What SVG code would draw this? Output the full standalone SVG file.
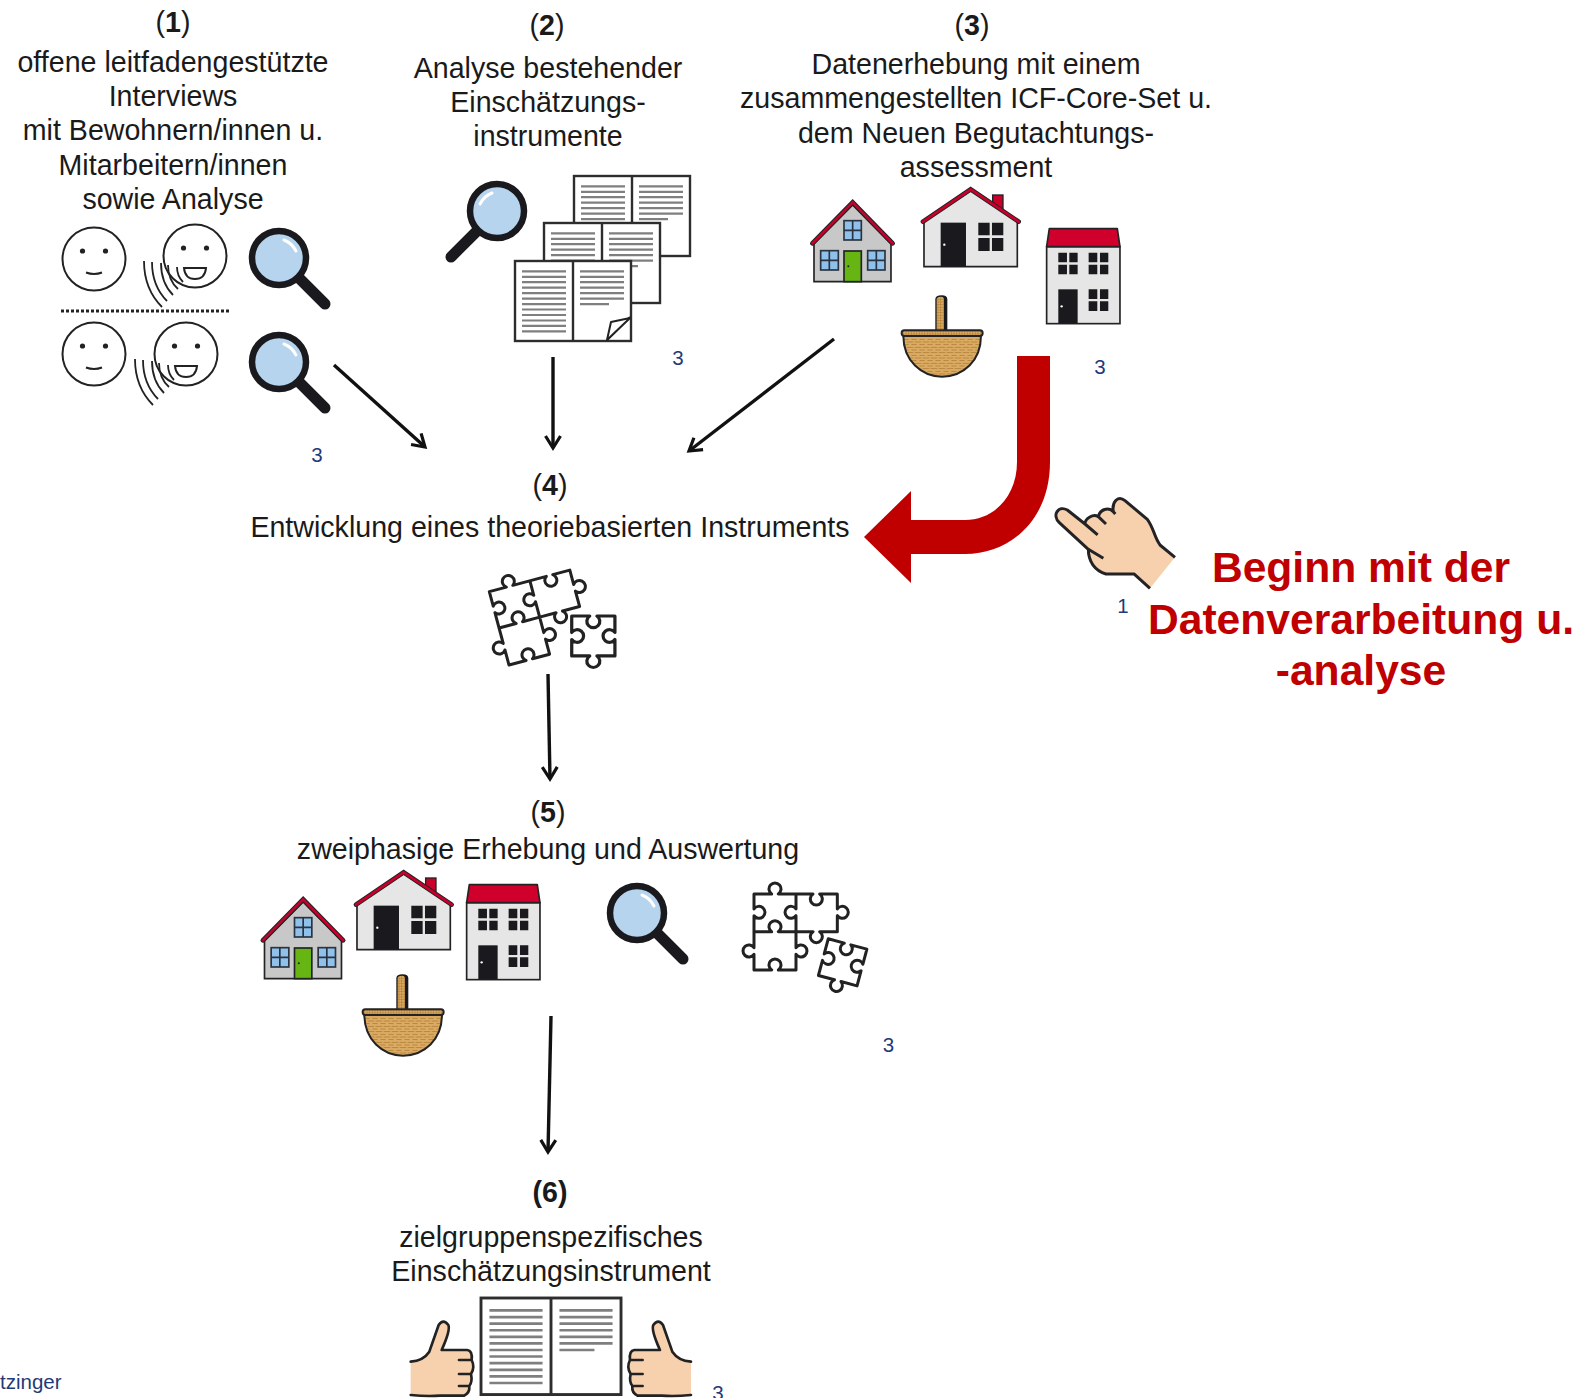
<svg xmlns="http://www.w3.org/2000/svg" xmlns:xlink="http://www.w3.org/1999/xlink" width="1588" height="1398" viewBox="0 0 1588 1398">
<style>
text{font-family:"Liberation Sans",Arial,sans-serif;fill:#1a1a1a}
.t{font-size:28.6px;text-anchor:middle}
.b{font-weight:bold}
.n{font-size:20.5px;fill:#1f3a78;text-anchor:middle}
.r{font-size:42.6px;font-weight:bold;fill:#c00000;text-anchor:middle}
.ln{stroke:#111;stroke-width:3.4;fill:none;marker-end:url(#ah)}
</style>
<defs>
<marker id="ah" markerUnits="userSpaceOnUse" markerWidth="24" markerHeight="24" refX="15" refY="10" orient="auto" overflow="visible">
<path d="M3,2.5 L15,10 L3,17.5" fill="none" stroke="#111" stroke-width="3.2" stroke-linejoin="miter"/>
</marker>
<pattern id="wv" width="24" height="16" patternUnits="userSpaceOnUse">
<rect width="24" height="16" fill="#dcab63"/>
<path d="M0,4H10M14,4H24M4,12H20" stroke="#b07f38" stroke-width="2.6"/>
</pattern>
<pattern id="st" width="8" height="8" patternUnits="userSpaceOnUse">
<rect width="8" height="8" fill="#dcab63"/>
<path d="M0,4H8M4,0V8" stroke="#b07f38" stroke-width="2"/>
</pattern>
<g id="mag">
<line x1="21" y1="21" x2="46" y2="46" stroke="#1a1a1e" stroke-width="11" stroke-linecap="round"/>
<circle r="27" fill="#b6d4ee" stroke="#1a1a1e" stroke-width="6.5"/>
<path d="M5,-18 Q13,-15 17,-7" fill="none" stroke="#fff" stroke-width="3" stroke-linecap="round"/>
</g>
<g id="face">
<circle r="31.5" fill="#fff" stroke="#222" stroke-width="2"/>
<circle cx="-11.5" cy="-8" r="2.6" fill="#222"/><circle cx="11.5" cy="-8" r="2.6" fill="#222"/>
</g>
<g id="calm"><use href="#face"/><path d="M-8,13.5 Q0,16.5 8,13.5" fill="none" stroke="#222" stroke-width="2"/></g>
<g id="talk"><use href="#face"/>
<path d="M-11,12 H11 Q10,23 0,23 Q-10,23 -11,12Z" fill="#fff" stroke="#222" stroke-width="2"/>
<path d="M-51,5 Q-51,33 -33,51M-43,6 Q-43,30 -28,45M-34,7 Q-34,27 -22,39M-27,9 Q-27,24 -17,33M-18,11 Q-18,20 -12,26" fill="none" stroke="#222" stroke-width="1.8"/>
</g>
<g id="page">
<rect x="0" y="0" width="116" height="80" fill="#fff" stroke="#2d2d2d" stroke-width="2.4"/>
<line x1="58" y1="0" x2="58" y2="80" stroke="#2d2d2d" stroke-width="2.4"/>
<path d="M7,10.3H51M7,15.8H51M7,21.2H51M7,26.7H51M7,32.2H51M7,37.6H51M7,43.1H51M7,48.5H51M7,54H51M7,59.5H51M7,64.9H51M7,70.4H51M65,10.3H109M65,15.8H109M65,21.2H109M65,26.7H109M65,32.2H109M65,37.6H109M65,43.1H94" stroke="#7f7f7f" stroke-width="2.2"/>
</g>
<g id="thumb">
<path d="M62,245 Q100,242 118,215 L146,135 Q160,115 175,135 Q182,150 155,210 H232 Q248,212 245,240 Q256,262 243,282 Q248,305 238,318 Q240,340 222,347 H150 Q110,350 62,345 Z" fill="#f7d0ae"/>
<path d="M62,245 Q100,242 118,215 L146,135 Q160,115 175,135 Q182,150 155,210 H232 Q248,212 245,240 Q256,262 243,282 Q248,305 238,318 Q240,340 222,347 H150 Q110,350 62,345 M245,240 H207 M243,282 H207 M238,318 H207" fill="none" stroke="#222" stroke-width="8" stroke-linejoin="round" stroke-linecap="round"/>
</g>
<path id="pc" d="M-60,-57 H-10 A18,18 0 1 0 10,-57 H60 V-10 A18,18 0 1 0 60,10 V57 H10 A18,18 0 1 1 -10,57 H-60 V10 A18,18 0 1 0 -60,-10 Z" fill="#fff" stroke="#222" stroke-width="9" stroke-linejoin="round"/>
<g id="pz3" fill="none" stroke="#222" stroke-width="9" stroke-linejoin="round">
<path d="M72,72 H125 A18,18 0 1 1 145,72 H249 A18,18 0 1 0 269,72 H322 V117 A18,18 0 1 1 322,137 V185 H269 A18,18 0 1 1 249,185 H198 V233 A18,18 0 1 1 198,253 V300 H145 A18,18 0 1 0 125,300 H72 V253 A18,18 0 1 1 72,233 V137 A18,18 0 1 0 72,117 Z" fill="#fff"/>
<path d="M198,72 V117 A18,18 0 1 0 198,137 V185 M72,185 H125 A18,18 0 1 1 145,185 H198"/>
</g>
<g id="h1">
<path d="M72,222 L188,105 L303,222 V335 H72 Z" fill="#c8c8c8" stroke="#232326" stroke-width="5"/>
<path d="M67,220 L188,97 L308,220" fill="none" stroke="#232326" stroke-width="14" stroke-linecap="round"/>
<path d="M67,220 L188,97 L308,220" fill="none" stroke="#c8002a" stroke-width="8" stroke-linecap="round"/>
<g fill="#8fc1ea" stroke="#2a3340" stroke-width="5">
<rect x="162" y="152" width="52" height="58"/><rect x="92" y="242" width="53" height="58"/><rect x="233" y="242" width="52" height="58"/>
<path d="M188,152V210M162,181H214M118,242V300M92,271H145M259,242V300M233,271H285" fill="none"/>
</g>
<rect x="162" y="243" width="52" height="92" fill="#66b512" stroke="#232326" stroke-width="5"/>
<circle cx="175" cy="289" r="3" fill="#222"/>
</g>
<g id="h2">
<rect x="608" y="75" width="31" height="50" fill="#c8002a" stroke="#232326" stroke-width="4"/>
<path d="M402,155 L542,62 L682,155 V290 H402 Z" fill="#e6e6e6" stroke="#232326" stroke-width="5"/>
<path d="M399,155 L542,58 L686,155" fill="none" stroke="#232326" stroke-width="14" stroke-linecap="round"/>
<path d="M399,155 L542,58 L686,155" fill="none" stroke="#c8002a" stroke-width="8" stroke-linecap="round"/>
<rect x="452" y="158" width="76" height="132" fill="#1a1a1e"/>
<circle cx="463" cy="224" r="3.5" fill="#fff"/>
<path d="M565,158h34v38h-34zM606,158h34v38h-34zM565,204h34v39h-34zM606,204h34v39h-34z" fill="#1a1a1e"/>
</g>
<g id="h3">
<rect x="770" y="230" width="220" height="231" fill="#e6e6e6" stroke="#232326" stroke-width="5"/>
<path d="M778,176 H982 L990,230 H770 Z" fill="#d0002c" stroke="#232326" stroke-width="5" stroke-linejoin="round"/>
<g fill="#1a1a1e">
<path d="M805,248h26v29h-26zM838,248h25v29h-25zM805,284h26v29h-26zM838,284h25v29h-25z"/>
<path d="M896,248h26v29h-26zM930,248h25v29h-25zM896,284h26v29h-26zM930,284h25v29h-25z"/>
<path d="M896,358h26v29h-26zM930,358h25v29h-25zM896,394h26v29h-26zM930,394h25v29h-25z"/>
<rect x="805" y="358" width="58" height="102"/>
</g>
<circle cx="815" cy="409" r="3.5" fill="#fff"/>
</g>
<g id="bk">
<path d="M436,482 V388 Q436,376 455,376 Q472,376 472,388 V482 Z" fill="#1a1a1e"/>
<path d="M440,482 V388 Q440,380 453,380 Q462,380 462,388 V482 Z" fill="url(#st)"/>
<path d="M340,497 H573 C573,572 520,620 456,620 C395,620 340,572 340,497Z" fill="url(#wv)" stroke="#232326" stroke-width="6"/>
<rect x="335" y="481" width="243" height="17" rx="8" fill="url(#st)" stroke="#232326" stroke-width="6"/>
</g>
</defs>

<rect width="1588" height="1398" fill="#fff"/>

<g id="connectors">
<line class="ln" x1="334" y1="365" x2="425" y2="447"/>
<line class="ln" x1="553" y1="357" x2="553" y2="448"/>
<line class="ln" x1="834" y1="339" x2="689" y2="451"/>
<line class="ln" x1="548" y1="674" x2="550" y2="779"/>
<line class="ln" x1="551" y1="1016" x2="548" y2="1152"/>
<path id="red-arrow" d="M1017,356 H1050 V462 C1050,520 1010,554 965,554 H911 V583 L864,537 L911,491 V520 H965 C995,520 1017,495 1017,462 Z" fill="#c00000"/>
</g>

<g id="node1">
<text class="t" x="173" y="31.5">(<tspan class="b">1</tspan>)</text>
<text class="t" x="173" y="71.5">offene leitfadengestützte</text>
<text class="t" x="173" y="105.5">Interviews</text>
<text class="t" x="173" y="140">mit Bewohnern/innen u.</text>
<text class="t" x="173" y="174.5">Mitarbeitern/innen</text>
<text class="t" x="173" y="209">sowie Analyse</text>
<use href="#calm" x="94" y="259"/>
<use href="#talk" x="195" y="256"/>
<line x1="61" y1="311" x2="229" y2="311" stroke="#222" stroke-width="3" stroke-dasharray="3 2"/>
<use href="#calm" x="94" y="354"/>
<use href="#talk" x="186" y="354"/>
<use href="#mag" x="279" y="258"/>
<use href="#mag" x="279" y="362"/>
<text class="n" x="317" y="462">3</text>
</g>

<g id="node2">
<text class="t" x="547" y="34.5">(<tspan class="b">2</tspan>)</text>
<text class="t" x="548" y="78">Analyse bestehender</text>
<text class="t" x="548" y="112">Einschätzungs-</text>
<text class="t" x="548" y="146">instrumente</text>
<use href="#mag" transform="translate(497 211) scale(-1 1)"/>
<use href="#page" x="574" y="176"/>
<use href="#page" x="544" y="223"/>
<use href="#page" x="515" y="261"/>
<path d="M607,340 L630,317" fill="none" stroke="#222" stroke-width="2"/>
<path d="M607,340 L630,318 L611,322 Z" fill="#fff" stroke="#222" stroke-width="2" stroke-linejoin="round"/>
<text class="n" x="678" y="365">3</text>
</g>

<g id="node3">
<text class="t" x="972" y="35">(<tspan class="b">3</tspan>)</text>
<text class="t" x="976" y="74">Datenerhebung mit einem</text>
<text class="t" x="976" y="108">zusammengestellten ICF-Core-Set u.</text>
<text class="t" x="976" y="143">dem Neuen Begutachtungs-</text>
<text class="t" x="976" y="177">assessment</text>
<g transform="translate(790 170) scale(.3333)"><use href="#h1"/><use href="#h2"/><use href="#h3"/><use href="#bk"/></g>
<text class="n" x="1100" y="374">3</text>
</g>

<g id="node4">
<text class="t" x="550" y="494.5">(<tspan class="b">4</tspan>)</text>
<text class="t" x="550" y="536.5">Entwicklung eines theoriebasierten Instruments</text>
<g transform="translate(470 550) scale(.3333)">
<g transform="translate(58 125) rotate(-15) translate(-72 -72)"><use href="#pz3"/></g>
<use href="#pc" transform="translate(370 258) scale(1.08 1.05)"/>
</g>
</g>

<g id="node5">
<text class="t" x="548" y="821.5">(<tspan class="b">5</tspan>)</text>
<text class="t" x="548" y="858.5">zweiphasige Erhebung und Auswertung</text>
<g transform="translate(240.500 867) scale(.3333)"><use href="#h1"/></g>
<g transform="translate(223 853) scale(.3333)"><use href="#h2"/></g>
<g transform="translate(210 826) scale(.3333)"><use href="#h3"/></g>
<g transform="translate(251 849) scale(.3333)"><use href="#bk"/></g>
<use href="#mag" x="637" y="913"/>
<g transform="translate(730 870) scale(.3333)">
<use href="#pz3"/>
<use href="#pc" transform="translate(338 277) rotate(15)"/>
</g>
<text class="n" x="888.500" y="1052">3</text>
</g>

<g id="node6">
<text class="t b" x="550" y="1202">(6)</text>
<text class="t" x="551" y="1246.500">zielgruppenspezifisches</text>
<text class="t" x="551" y="1280.500">Einschätzungsinstrument</text>
<g transform="translate(390 1280) scale(.3333)">
<use href="#thumb"/>
<use href="#thumb" transform="translate(965 0) scale(-1 1)"/>
</g>
<use href="#page" transform="translate(481 1298) scale(1.207)"/>
<text class="n" x="718" y="1400">3</text>
</g>

<g id="note">
<g transform="translate(1030 450) scale(.3333)">
<path d="M360,415 L312,372 H228 C195,362 175,335 175,298 L88,218 C65,195 85,165 112,180 L165,222 C165,205 190,190 205,200 C210,178 235,170 250,185 C245,155 265,135 285,152 L352,208 C372,235 372,260 390,285 L435,322 Z" fill="#f7d0ae"/>
<path d="M360,415 L312,372 H228 C195,362 175,335 175,298 L88,218 C65,195 85,165 112,180 L165,222 C165,205 190,190 205,200 C210,178 235,170 250,185 C245,155 265,135 285,152 L352,208 C372,235 372,260 390,285 L435,322 M175,298 L220,325 M165,222 L203,255 M205,200 L228,222 M250,185 L256,192" fill="none" stroke="#232326" stroke-width="9" stroke-linejoin="round"/>
</g>
<text class="n" x="1123" y="613">1</text>
<text class="r" x="1361" y="582">Beginn mit der</text>
<text class="r" x="1361" y="634">Datenverarbeitung u.</text>
<text class="r" x="1361" y="685">-analyse</text>
</g>

<text class="n" x="0" y="1389" style="text-anchor:start">tzinger</text>
</svg>
